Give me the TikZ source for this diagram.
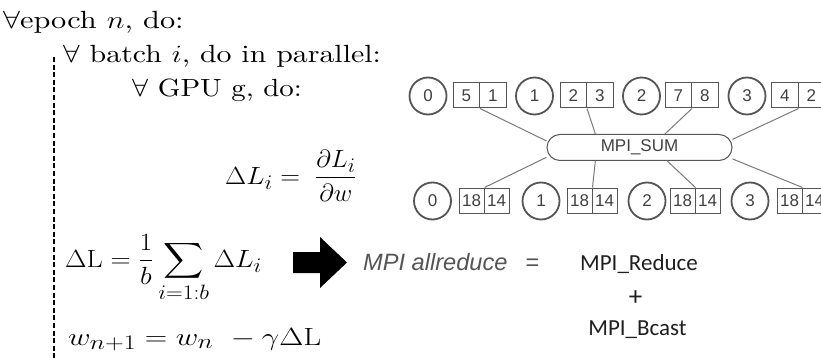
\documentclass[tikz,border=0pt]{standalone}
\usepackage{amsmath}
\usepackage{fontspec}
\newfontfamily\arialf{Liberation Sans}
\newfontfamily\calf{Carlito}
\newfontfamily\lmten{lmroman10-regular}[Extension=.otf]
\usetikzlibrary{shapes.misc}
\definecolor{dg}{HTML}{555555}
\definecolor{tg}{HTML}{404040}
\definecolor{lg}{HTML}{7A7A7A}
\tikzset{
  serif/.style={font=\lmten\fontsize{24.88}{30}\selectfont, inner sep=0pt, anchor=base west, text=black},
  circ/.style={circle, draw=dg, line width=1.8pt, minimum size=37pt, inner sep=0pt,
    font=\arialf\fontsize{17}{20}\selectfont, text=tg},
  cellbox/.style={rectangle, draw=dg, line width=1pt, minimum height=25pt, inner sep=0pt,
    font=\arialf\fontsize{17}{20}\selectfont, text=tg},
  tcell/.style={cellbox, minimum width=26.5pt},
  bcell/.style={cellbox, minimum width=25pt},
  link/.style={draw=lg, line width=1pt},
  sumbox/.style={rectangle, rounded corners=13pt, draw=dg, line width=1pt, minimum width=185pt,
    minimum height=26pt, font=\arialf\fontsize{17}{20}\selectfont, text=tg},
  dashline/.style={line width=2.6pt, dash pattern=on 5pt off 2.6pt},
  mpiital/.style={font=\arialf\itshape\fontsize{23.6}{28}\selectfont, text=dg, inner sep=0pt, anchor=base west},
  mpieq/.style={font=\arialf\fontsize{23.6}{28}\selectfont, text=dg, inner sep=0pt, anchor=base},
  calib/.style={font=\calf\fontsize{23}{28}\selectfont, text=black!88, inner sep=0pt, anchor=base},
}
\begin{document}
\begin{tikzpicture}[x=1pt,y=-1pt]
\useasboundingbox (0,0) rectangle (821,358);
% left: algorithm text
\node[serif] (epoch) at (3,29) {\scalebox{1.22}[1]{$\forall$epoch $n$, do:}};
\coordinate (dtop) at (54,57);
\coordinate (dbot) at (54,360);
\draw[dashline] (dtop) -- (dbot);
\node[serif] (batch) at (63,63) {\scalebox{1.2}[1]{$\forall$ batch $i$, do in parallel:}};
\node[serif] (gpu) at (132,97) {\scalebox{1.16}[1]{$\forall$ GPU g, do:}};
\node[serif] (gradl) at (225,184) {\scalebox{1.1}[1]{$\Delta L_i =$}};
\node[serif] (gradf) at (315,184) {\scalebox{1.02}[1]{$\dfrac{\partial L_i}{\partial w}$}};
\node[serif] (sum) at (65,267) {\scalebox{1.12}[1]{$\displaystyle \Delta\mathrm{L} = \frac{1}{b}\sum_{i=1:b}\Delta L_i$}};
\node[serif] (upd) at (68,345) {\scalebox{1.25}[1]{$w_{n+1} = w_n\ -\gamma\Delta\mathrm{L}$}};
% block arrow
\fill[black] (293,252) -- (320,252) -- (320,237) -- (347,262.5) -- (320,288) -- (320,273) -- (293,273) -- cycle;
% MPI allreduce text
\node[mpiital] (allr) at (363,270) {MPI allreduce};
\node[mpieq] (eq) at (532.5,270) {=};
\node[calib] (red) at (639,270) {MPI\_Reduce};
\node[calib, font=\calf\fontsize{27}{30}\selectfont] (plus) at (635.5,305) {+};
\node[calib] (bc) at (637.5,335) {MPI\_Bcast};
% MPI_SUM diagram
\node[sumbox] (mpisum) at (639.5,147.5) {MPI\_SUM};
% top row
\node[circ] (tc0) at (428,96) {0};
\node[tcell] (ta0) at (466.25,95.5) {5};
\node[tcell] (tb0) at (492.75,95.5) {1};
\node[circ] (tc1) at (534.5,96) {1};
\node[tcell] (ta1) at (573.25,95.5) {2};
\node[tcell] (tb1) at (599.75,95.5) {3};
\node[circ] (tc2) at (641.5,96) {2};
\node[tcell] (ta2) at (678.25,95.5) {7};
\node[tcell] (tb2) at (704.75,95.5) {8};
\node[circ] (tc3) at (747,96) {3};
\node[tcell] (ta3) at (784.75,95.5) {4};
\node[tcell] (tb3) at (811.25,95.5) {2};
% bottom row
\node[circ] (bc0) at (432.5,201) {0};
\node[bcell] (ba0) at (471.5,200.5) {18};
\node[bcell] (bb0) at (496.5,200.5) {14};
\node[circ] (bc1) at (541,201) {1};
\node[bcell] (ba1) at (579.5,200.5) {18};
\node[bcell] (bb1) at (604.5,200.5) {14};
\node[circ] (bc2) at (647,201) {2};
\node[bcell] (ba2) at (682.5,200.5) {18};
\node[bcell] (bb2) at (707.5,200.5) {14};
\node[circ] (bc3) at (750,201) {3};
\node[bcell] (ba3) at (789.5,200.5) {18};
\node[bcell] (bb3) at (814.5,200.5) {14};
% links
\draw[link] (ta0.south east) -- (mpisum.176);
\draw[link] (ta1.south east) -- (mpisum.163);
\draw[link] (ta2.south east) -- (mpisum.28);
\draw[link] (ta3.south east) -- (mpisum.5);
\draw[link] (ba0.north east) -- (mpisum.186);
\draw[link] (ba1.north east) -- (mpisum.197);
\draw[link] (ba2.north east) -- (mpisum.334);
\draw[link] (ba3.north east) -- (mpisum.353);
\end{tikzpicture}
\end{document}
